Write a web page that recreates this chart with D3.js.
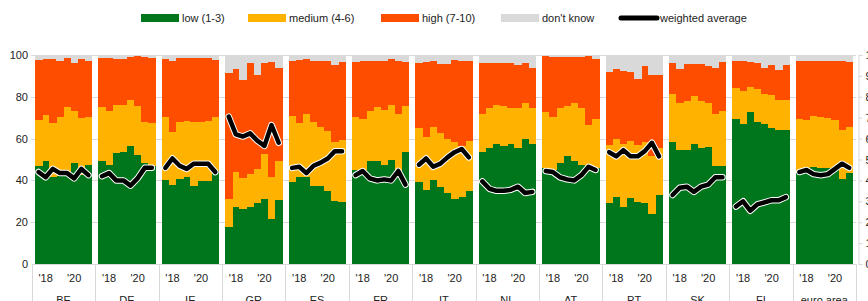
<!DOCTYPE html>
<html>
<head>
<meta charset="utf-8">
<script src="https://cdn.jsdelivr.net/npm/d3@7"></script>
<style>
  html, body { margin: 0; padding: 0; background: #fff; }
  svg { display: block; font-family: "Liberation Sans", Arial, sans-serif; }
</style>
</head>
<body>
<div id="chart"></div>
<script>
const countries = ['BE', 'DE', 'IE', 'GR', 'ES', 'FR', 'IT', 'NL', 'AT', 'PT', 'SK', 'FI', 'euro area'];
const periods = ['2017H2', '2018H1', '2018H2', '2019H1', '2019H2', '2020H1', '2020H2', '2021H1'];
const periodTicks = ['2018H1', '2020H1'];
const tickLabels = ["'18", "'20"];

// shares in %, one row per country, one value per period
const lowShare = [
    [47, 49.5, 41.5, 42, 42, 48.5, 42.5, 47.5],
    [49.5, 47.5, 53, 53.5, 56.5, 52, 48.5, 47],
    [40, 38, 40.5, 41.5, 37.5, 39.5, 39.5, 44.5],
    [17.5, 27.5, 26.5, 27.5, 29, 31, 21.5, 30.5],
    [39, 41.5, 41.5, 37.5, 37.5, 35, 30, 29.5],
    [45, 45, 49.5, 49.5, 47.5, 50, 44, 53.5],
    [39, 35.5, 40, 37, 34, 31, 32, 35],
    [53.5, 55.5, 57.5, 56.5, 57.5, 55.5, 60, 57.5],
    [46, 45, 48.5, 51.5, 49.5, 47.5, 46, 46],
    [29, 32, 27.5, 31.5, 29.5, 29, 24, 33],
    [58.5, 54.5, 54.5, 57.5, 55.5, 56, 47, 47],
    [69.5, 67, 72.5, 68, 67, 65, 64, 64],
    [43.5, 43.5, 46.5, 46, 46, 46, 40.5, 43.5]
];
const mediumShare = [
    [22, 22, 26, 28.5, 33, 24.5, 27.5, 23],
    [25.5, 25.5, 23, 22.5, 22, 23.5, 19.5, 20.5],
    [30.5, 25, 27.5, 27, 30.5, 28.5, 29, 26],
    [13.5, 16.5, 14.5, 15.5, 16.5, 21.5, 20, 19],
    [32, 26, 30.5, 30.5, 28, 28.5, 28.5, 30],
    [25.5, 24.5, 23.5, 25.5, 26, 26, 28, 22],
    [26, 25.5, 25.5, 25.5, 26, 27.5, 24.5, 24],
    [18.5, 19, 18.5, 19, 17, 19, 17, 17],
    [26.5, 25.5, 26, 24, 27.5, 27, 20.5, 23.5],
    [28, 28, 30, 27.5, 27.5, 29.5, 27.5, 22.5],
    [23, 22.5, 23.5, 23, 22.5, 21, 25, 26],
    [14.5, 16, 12, 15.5, 14.5, 16, 14.5, 14.5],
    [26, 25.5, 24.5, 24.5, 24, 23, 23.5, 22]
];
const highShare = [
    [28.5, 26.8, 30.8, 26.5, 23.7, 23.3, 28.3, 26.5],
    [23.5, 25.8, 22.3, 22.3, 20.5, 24.2, 31, 31],
    [27.5, 34.2, 30.5, 30.3, 30.8, 30.8, 30.3, 27],
    [60.5, 49.5, 47, 53, 45, 43.5, 55.3, 44.5],
    [26.3, 30.1, 26, 29, 31.5, 33.5, 36.5, 37.2],
    [26.3, 27.8, 24.3, 22.3, 23.8, 22, 25.3, 21.2],
    [31.3, 35.8, 31.8, 33.2, 35.7, 39.1, 40.5, 38.3],
    [24, 21.5, 20, 20.5, 21.5, 20.5, 19, 19.5],
    [27, 28.5, 24.7, 23.5, 22.2, 24.7, 33, 28.7],
    [35, 33.5, 35, 33, 31.5, 36, 39, 35],
    [14.5, 16.5, 17.5, 15, 17.5, 17.5, 22, 23.5],
    [13, 14, 12, 12.5, 12.5, 14, 14.5, 16.5],
    [27.5, 28.3, 26.3, 26.5, 27, 28.3, 33.3, 31.3]
];
const dontKnowShare = [
    [2.5, 1.7, 1.7, 3, 1.3, 3.7, 1.7, 3],
    [1.5, 1.2, 1.7, 1.7, 1, 0.3, 1, 1.5],
    [2, 2.8, 1.5, 1.2, 1.2, 1.2, 1.2, 2.5],
    [8.5, 6.5, 12, 4, 9.5, 4, 3.2, 6],
    [2.7, 2.4, 2, 3, 3, 3, 5, 3.3],
    [3.2, 2.7, 2.7, 2.7, 2.7, 2, 2.7, 3.3],
    [3.7, 3.2, 2.7, 4.3, 4.3, 2.4, 3, 2.7],
    [4, 4, 4, 4, 4, 5, 4, 6],
    [0.5, 1, 0.8, 1, 0.8, 0.8, 0.5, 1.8],
    [8, 6.5, 7.5, 8, 11.5, 5.5, 9.5, 9.5],
    [4, 6.5, 4.5, 4.5, 4.5, 5.5, 6, 3.5],
    [3, 3, 3.5, 4, 6, 5, 7, 5],
    [3, 2.7, 2.7, 3, 3, 2.7, 2.7, 3.2]
];
// weighted average on a 0-10 scale (right axis)
const weightedAvg = [
    [4.4, 4.15, 4.55, 4.35, 4.35, 4.1, 4.55, 4.25],
    [4.2, 4.35, 4.0, 4.0, 3.75, 4.1, 4.6, 4.6],
    [4.6, 5.05, 4.7, 4.55, 4.8, 4.8, 4.8, 4.4],
    [7.05, 6.2, 6.1, 6.25, 5.9, 5.65, 6.65, 5.8],
    [4.6, 4.65, 4.35, 4.7, 4.85, 5.05, 5.4, 5.4],
    [4.25, 4.45, 4.1, 4.0, 4.05, 4.0, 4.45, 3.8],
    [4.75, 5.05, 4.65, 4.8, 5.1, 5.35, 5.5, 5.1],
    [3.95, 3.6, 3.5, 3.5, 3.55, 3.7, 3.4, 3.45],
    [4.45, 4.4, 4.15, 4.05, 4.0, 4.25, 4.65, 4.5],
    [5.35, 5.15, 5.45, 5.15, 5.15, 5.4, 5.8, 5.15],
    [3.3, 3.65, 3.7, 3.45, 3.7, 3.8, 4.15, 4.15],
    [2.75, 3.0, 2.55, 2.85, 2.95, 3.05, 3.05, 3.2],
    [4.4, 4.5, 4.3, 4.25, 4.3, 4.55, 4.8, 4.6]
];

const seriesKeys = ['low', 'medium', 'high', 'dontKnow'];
const seriesNames = ['low (1-3)', 'medium (4-6)', 'high (7-10)', "don't know"];
const colors = d3.scaleOrdinal().domain(seriesKeys).range(['#00761c', '#ffb200', '#ff4d00', '#d9d9d9']);

const width = 868, height = 301;
const svg = d3.select('#chart').append('svg')
    .attr('width', width)
    .attr('height', height);

const x = d3.scaleBand()
    .domain(countries)
    .range([31.8, 856])
    .paddingInner(0.1)
    .paddingOuter(0.05);

const xi = d3.scaleBand()
    .domain(periods)
    .range([0, x.bandwidth()]);

const y = d3.scaleLinear().domain([0, 100]).range([264, 55]);
const y2 = d3.scaleLinear().domain([0, 10]).range([264, 55]);

// gridlines
svg.append('g')
    .selectAll('line')
    .data([20, 40, 60, 80, 100])
    .enter()
    .append('line')
    .attr('x1', 31)
    .attr('x2', 856)
    .attr('y1', d => Math.round(y(d)) + 0.5)
    .attr('y2', d => Math.round(y(d)) + 0.5)
    .attr('stroke', '#d9d9d9');

// stacked bars
const rows = [];
countries.forEach((c, i) => {
    periods.forEach((p, j) => {
        rows.push({
            country: c,
            period: p,
            low: lowShare[i][j],
            medium: mediumShare[i][j],
            high: highShare[i][j],
            dontKnow: dontKnowShare[i][j],
        });
    });
});

const stacked = d3.stack().keys(seriesKeys)(rows);

svg.append('g')
    .attr('shape-rendering', 'crispEdges')
    .selectAll('g')
    .data(stacked)
    .enter()
    .append('g')
    .attr('fill', d => colors(d.key))
    .selectAll('rect')
    .data(d => d)
    .enter()
    .append('rect')
    .attr('x', d => x(d.data.country) + xi(d.data.period))
    .attr('width', xi.bandwidth() + 0.4)
    .attr('y', d => y(d[1]))
    .attr('height', d => y(d[0]) - y(d[1]));

// x axis line and panel separators
svg.append('line')
    .attr('x1', 31.8).attr('x2', 856)
    .attr('y1', 264.5).attr('y2', 264.5)
    .attr('stroke', '#d9d9d9');

svg.append('g')
    .selectAll('line')
    .data(d3.range(countries.length + 1))
    .enter()
    .append('line')
    .attr('x1', i => Math.round(31.8 + i * x.step()) + 0.5)
    .attr('x2', i => Math.round(31.8 + i * x.step()) + 0.5)
    .attr('y1', 264)
    .attr('y2', height)
    .attr('stroke', '#d9d9d9');

// period tick labels and country labels
const panels = svg.append('g')
    .selectAll('g')
    .data(countries)
    .enter()
    .append('g')
    .attr('transform', c => 'translate(' + x(c) + ',0)');

periodTicks.forEach((p, k) => {
    panels.append('text')
        .attr('x', xi(p) + xi.bandwidth() / 2)
        .attr('y', 282)
        .attr('text-anchor', 'middle')
        .attr('font-size', 11)
        .attr('fill', '#222')
        .text(tickLabels[k]);
});

panels.append('text')
    .attr('x', x.bandwidth() / 2)
    .attr('y', 304)
    .attr('text-anchor', 'middle')
    .attr('font-size', 11)
    .attr('fill', '#222')
    .text(c => c);

// left axis
svg.append('g')
    .attr('transform', 'translate(31,0)')
    .call(d3.axisLeft(y).tickValues([0, 20, 40, 60, 80, 100]).tickSize(0).tickPadding(3))
    .call(g => g.select('.domain').remove())
    .selectAll('text')
    .attr('font-size', 11)
    .attr('font-family', '"Liberation Sans", Arial, sans-serif')
    .attr('fill', '#222');

// right axis (weighted average scale)
svg.append('g')
    .attr('transform', 'translate(858.5,0)')
    .call(d3.axisRight(y2).ticks(10).tickSize(4).tickPadding(3))
    .call(g => g.select('.domain').attr('stroke', '#d9d9d9'))
    .call(g => g.selectAll('.tick line').attr('stroke', '#d9d9d9'))
    .selectAll('text')
    .attr('font-size', 11)
    .attr('font-family', '"Liberation Sans", Arial, sans-serif')
    .attr('fill', '#222');

// weighted average lines
const line = d3.line()
    .x((d, j) => xi(periods[j]) + xi.bandwidth() / 2)
    .y(d => y2(d));

panels.append('path')
    .datum((c, i) => weightedAvg[i])
    .attr('fill', 'none')
    .attr('stroke', '#fff')
    .attr('stroke-width', 6.5)
    .attr('stroke-linejoin', 'round')
    .attr('stroke-linecap', 'round')
    .attr('d', line);

panels.append('path')
    .datum((c, i) => weightedAvg[i])
    .attr('fill', 'none')
    .attr('stroke', '#000')
    .attr('stroke-width', 4.5)
    .attr('stroke-linejoin', 'round')
    .attr('stroke-linecap', 'round')
    .attr('d', line);

// legend
const legendX = [141, 248, 381, 501];
const legend = svg.append('g');
seriesKeys.forEach((k, i) => {
    legend.append('rect')
        .attr('x', legendX[i])
        .attr('y', 14)
        .attr('width', 38)
        .attr('height', 8)
        .attr('fill', colors(k));
    legend.append('text')
        .attr('x', legendX[i] + 41)
        .attr('y', 22)
        .attr('font-size', 11)
        .attr('fill', '#222')
        .text(seriesNames[i]);
});
legend.append('line')
    .attr('x1', 621).attr('x2', 657)
    .attr('y1', 18).attr('y2', 18)
    .attr('stroke', '#000')
    .attr('stroke-width', 5)
    .attr('stroke-linecap', 'round');
legend.append('text')
    .attr('x', 660)
    .attr('y', 22)
    .attr('font-size', 11)
    .attr('fill', '#222')
    .text('weighted average');
</script>
</body>
</html>
